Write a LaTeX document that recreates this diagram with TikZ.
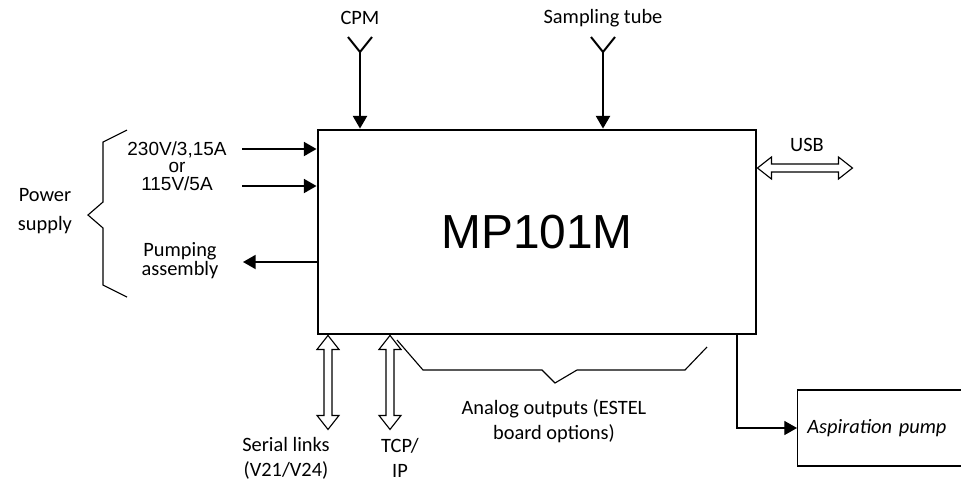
\documentclass[tikz,border=0pt]{standalone}
\usepackage{fontspec}
\setmainfont{Carlito}
\newfontfamily\arialfont{Liberation Sans}
\usetikzlibrary{arrows.meta}

\newcommand*{\labelsize}{\fontsize{14.5}{18}\selectfont}
\newcommand*{\volsize}{\arialfont\fontsize{13.5}{12.5}\selectfont}
\newcommand*{\wmax}{961}
\newcommand*{\hmax}{482}

% hollow two-headed arrow: start, length, angle
\newcommand*{\hollowarrow}[3]{%
	\draw[hollow,shift={#1},rotate=#3] (0,0) -- (14,-11) -- (14,-4) -- (#2-14,-4) -- (#2-14,-11) -- (#2,0)
		-- (#2-14,11) -- (#2-14,4) -- (14,4) -- (14,11) -- cycle;}

\begin{document}
\begin{tikzpicture}
[
	x=0.025cm,y=-0.025cm,
	lbl/.style={font=\labelsize,align=center,inner sep=0pt},
	mainbox/.style={draw,line width=2pt,minimum width=10.95cm,minimum height=5.1cm,inner sep=0pt},
	pumpbox/.style={draw,line width=0.8pt,anchor=west,minimum height=1.9cm,text width=4.6cm,inner xsep=7pt,align=left,font=\labelsize\itshape},
	feed/.style={-{Triangle[length=9pt,width=10pt]},line width=1.2pt},
	hollow/.style={draw,fill=white,line width=0.8pt,line join=miter},
	brace/.style={line width=0.8pt,line join=miter}
]

	% frame
	\clip (0,0) rectangle (\wmax,\hmax);

	% main unit
	\node[mainbox] (mp) at (537,232) {\arialfont\fontsize{34}{40}\selectfont MP101M};

	% top inputs
	\coordinate (cpm) at (360,52);
	\coordinate (tube) at (603,52);
	\node[lbl] (cpmlabel) at (360,18) {CPM};
	\node[lbl] (tubelabel) at (603,18) {Sampling tube};
	\foreach \c in {cpm,tube} {
		\draw[line width=1.4pt] (\c) ++(-12,-15) -- (\c) -- ++(12,-15);
		\draw[feed,line width=1.4pt] (\c) -- (\c |- mp.north);
	}

	% power supply
	\coordinate (in1) at (242,149);
	\coordinate (in2) at (242,186);
	\coordinate (pump) at (243,262);
	\draw[feed] (in1) -- (in1 -| mp.west);
	\draw[feed] (in2) -- (in2 -| mp.west);
	\draw[feed] (pump -| mp.west) -- (pump);
	\node[lbl,font=\volsize] (volt) at (177,166) {230V/3,15A\\or\\115V/5A};
	\node[lbl,font=\fontsize{14.5}{12}\selectfont] (pumplabel) at (180,261) {Pumping\\assembly};
	\draw[brace] (127,130) -- (103,142) -- (103,202) -- (88,215) -- (103,228) -- (103,285) -- (127,297);
	\node[lbl,font=\fontsize{14.5}{21}\selectfont] (power) at (45,211) {Power\\supply};

	% usb
	\coordinate (usb) at (852,168);
	\hollowarrow{(usb -| mp.east)}{95}{0}
	\node[lbl] (usblabel) at (807,145) {USB};

	% bottom links
	\coordinate (ser) at (328,428);
	\coordinate (tcp) at (390,428);
	\hollowarrow{(ser |- mp.south)}{94}{-90}
	\hollowarrow{(tcp |- mp.south)}{94}{-90}
	\node[lbl] (serlabel) at (286,458) {Serial links\\(V21/V24)};
	\node[lbl] (tcplabel) at (400,458) {TCP/\\IP};

	% analog outputs
	\draw[brace] (397,340) -- (423,370) -- (542,370) -- (555,383) -- (577,370) -- (685,370) -- (707,347);
	\node[lbl] (analog) at (554,421) {Analog outputs (ESTEL\\board options)};

	% aspiration pump
	\coordinate (aspx) at (737,0);
	\node[pumpbox] (asp) at (797,428) {Aspiration pump};
	\draw[feed,line width=0.8pt] (mp.south -| aspx) |- (asp.west);

\end{tikzpicture}
\end{document}
